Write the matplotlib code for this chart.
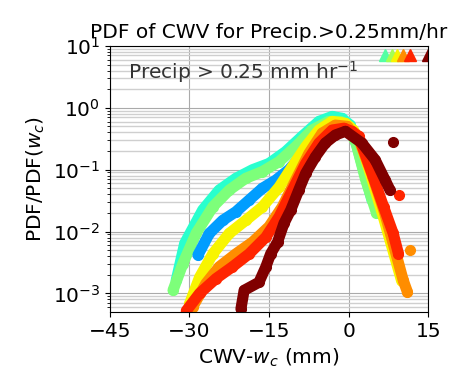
import matplotlib
matplotlib.use("Agg")
import matplotlib.pyplot as plt
import numpy as np

# ---- data (CWV - w_c in mm, log10 of PDF ratio) ----
turq_x = [-32.5, -30.9, -27.5, -24.4, -21.25, -18.1, -15.0, -11.9, -8.75, -5.6, -3.1, -1.25, 0.3, 1.25, 2.8, 4.4]
turq_y = [-2.79, -2.19, -1.65, -1.33, -1.14, -1.00, -0.90, -0.71, -0.46, -0.22, -0.14, -0.17, -0.28, -0.52, -1.0, -1.49]

green_x = [-33.1, -31.25, -28.75, -25.6, -22.5, -19.4, -16.25, -13.1, -10.0, -6.9, -3.75, -1.6, 0.0, 1.5, 3.2, 5.25]
green_y = [-2.95, -2.52, -2.03, -1.60, -1.33, -1.14, -1.03, -0.87, -0.63, -0.36, -0.22, -0.22, -0.30, -0.60, -1.16, -1.70]

blue_x = [-28.4, -26.25, -23.75, -21.25, -18.75, -16.25, -13.75, -11.25, -9.4, -6.9, -3.75, -1.25]
blue_y = [-2.38, -2.03, -1.82, -1.68, -1.49, -1.30, -1.17, -1.00, -0.82, -0.52, -0.30, -0.30]

yellow_x = [-30.0, -28.1, -25.6, -22.5, -19.4, -16.25, -13.1, -10.6, -8.1, -5.6, -3.1, -0.6, 0.9, 2.2, 4.4, 6.5, 8.5, 10.0]
yellow_y = [-3.17, -2.74, -2.36, -2.03, -1.82, -1.60, -1.28, -0.95, -0.63, -0.36, -0.22, -0.25, -0.36, -0.55, -1.15, -1.75, -2.35, -2.80]

orange_x = [-29.4, -26.9, -24.4, -21.25, -18.1, -15.0, -12.5, -10.0, -7.5, -5.0, -2.5, -0.3, 2.0, 4.5, 6.8, 9.1, 10.3, 11.1, 11.6]
orange_y = [-3.22, -2.84, -2.57, -2.36, -2.17, -1.92, -1.60, -1.17, -0.74, -0.41, -0.28, -0.30, -0.52, -1.10, -1.70, -2.41, -2.79, -2.98, -2.30]

red_x = [-30.6, -28.1, -25.0, -21.9, -18.75, -15.6, -13.1, -10.6, -8.1, -5.6, -3.1, -0.9, 0.6, 1.9, 4.4, 6.6, 8.4, 9.4, 9.5]
red_y = [-3.28, -3.00, -2.76, -2.57, -2.36, -2.09, -1.76, -1.33, -0.90, -0.57, -0.36, -0.33, -0.38, -0.46, -1.06, -1.60, -2.03, -2.36, -1.41]

dred_x = [-20.3, -19.7, -16.9, -15.6, -14.7, -13.4, -12.2, -10.9, -9.4, -8.1, -6.25, -4.4, -2.5, -0.6, 2.5, 5.0, 6.9, 7.8, 8.4]
dred_y = [-3.25, -2.95, -2.82, -2.57, -2.36, -2.17, -1.87, -1.65, -1.33, -1.06, -0.79, -0.57, -0.44, -0.38, -0.57, -0.84, -1.17, -1.33, -0.55]

# (name, x, log10 y, jet value, last point is a stray dot)
series = [
    ("turq", turq_x, turq_y, 0.40, False),
    ("green", green_x, green_y, 0.50, False),
    ("blue", blue_x, blue_y, 0.28, False),
    ("yellow", yellow_x, yellow_y, 0.65, False),
    ("orange", orange_x, orange_y, 0.76, True),
    ("red", red_x, red_y, 0.87, True),
    ("dred", dred_x, dred_y, 1.00, True),
]

tri_x = [6.8, 8.1, 9.2, 10.3, 11.6, 15.0]
tri_c = [0.45, 0.55, 0.65, 0.76, 0.87, 1.00]
tri_y = 7.2

plt.rcParams["font.family"] = ["DejaVu Sans"]
fig = plt.figure(figsize=(4.56, 3.89), dpi=100)
ax = fig.add_axes([0.241, 0.198, 0.698, 0.684])

for name, xs, ys, cval, outlier in series:
    col = plt.cm.jet(cval)
    xs = np.array(xs)
    ys = 10 ** np.array(ys)
    n = len(xs) - 1 if outlier else len(xs)
    ax.plot(xs[:n], ys[:n], "-", color=col, lw=8, solid_capstyle="round",
            solid_joinstyle="round")
    ax.plot(xs[:n], ys[:n], "o", color=col, ms=7, ls="none")
    if outlier:
        ax.plot(xs[-1:], ys[-1:], "o", color=col, ms=7, ls="none")

for tx, tc in zip(tri_x, tri_c):
    ax.plot(tx, tri_y, "^", color=plt.cm.jet(tc), ms=8, clip_on=True)

ax.set_yscale("log")
ax.set_xlim(-45, 15)
ax.set_ylim(10 ** -3.3, 10)
ax.set_xticks([-45, -30, -15, 0, 15])
ax.grid(True, which="major", color="#aaaaaa", lw=0.8)
ax.grid(True, which="minor", axis="y", color="#cfcfcf", lw=1.0)
ax.set_axisbelow(True)
ax.tick_params(labelsize=14.5)

ax.text(0.057, 0.90, "Precip > 0.25 mm hr$^{-1}$", transform=ax.transAxes,
        fontsize=14.5, va="center", ha="left", color="#333333")
ax.set_title("PDF of CWV for Precip.>0.25mm/hr", fontsize=14.5, pad=6)
ax.set_xlabel("CWV-$w_c$ (mm)", fontsize=14.5)
ax.set_ylabel("PDF/PDF($w_c$)", fontsize=14.5)

fig.savefig("out.png", dpi=100)
